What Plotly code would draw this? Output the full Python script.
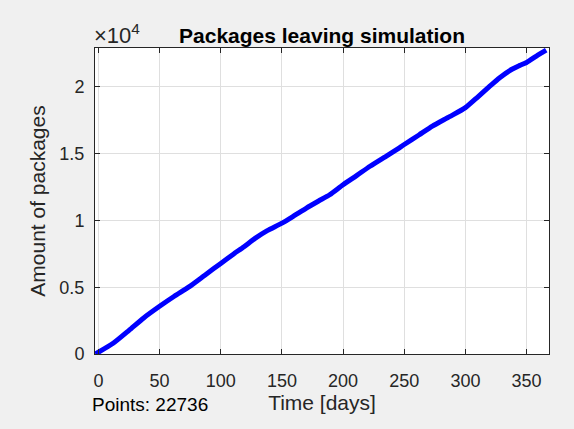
import plotly.graph_objects as go

# Cumulative number of packages that have left the simulation, by day
days = [-2.5, 12, 25, 37, 50, 62, 74, 87, 100, 110, 119, 128, 138, 150, 160,
        170, 180, 189, 200, 211, 222, 236, 246, 250, 262, 273, 287, 300, 310,
        319.5, 328, 338, 344, 350, 358, 366]
packages = [0, 800, 1770, 2700, 3570, 4320, 5020, 5900, 6780, 7450, 8030,
            8650, 9230, 9790, 10350, 10920, 11450, 11920, 12670, 13350, 14050,
            14850, 15430, 15680, 16390, 17050, 17760, 18440, 19230, 20010,
            20680, 21310, 21580, 21820, 22300, 22736]
n_points = 22736

x_ticks = [0, 50, 100, 150, 200, 250, 300, 350]
y_ticks = [0, 5000, 10000, 15000, 20000]
y_tick_text = ["0", "0.5", "1", "1.5", "2"]

FONT = "Liberation Sans, Arial, Helvetica, sans-serif"
INK = "#262626"
GRID = "#dfdfdf"

fig = go.Figure(
    go.Scatter(
        x=days, y=packages, mode="lines",
        line=dict(color="#0000ff", width=5, shape="spline", smoothing=0.6),
        hoverinfo="skip", showlegend=False,
    )
)

axis_common = dict(
    showline=True, linecolor=INK, linewidth=1, mirror="ticks",
    ticks="inside", ticklen=5, tickcolor=INK, tickwidth=1,
    showgrid=True, gridcolor=GRID, gridwidth=1, zeroline=False,
    tickfont=dict(family=FONT, size=18, color=INK),
)

fig.update_xaxes(
    range=[-2.8, 368.3], tickvals=x_ticks,
    ticktext=[str(v) for v in x_ticks],
    ticklabelstandoff=10,
    title=dict(text="Time [days]", font=dict(family=FONT, size=21, color=INK),
               standoff=3),
    **axis_common,
)
fig.update_yaxes(
    range=[0, 22900], tickvals=y_ticks, ticktext=y_tick_text,
    ticklabelstandoff=6,
    title=dict(text="Amount of packages",
               font=dict(family=FONT, size=21, color=INK), standoff=8),
    **axis_common,
)

fig.update_layout(
    width=574, height=429,
    margin=dict(l=94.5, r=24.7, t=48.3, b=75.2),
    paper_bgcolor="#f0f0f0", plot_bgcolor="#ffffff",
    title=dict(
        text="<b>Packages leaving simulation</b>",
        font=dict(family=FONT, size=21, color="#000000"),
        x=0.5, xref="paper", xanchor="center",
        y=1 - 36 / 429, yref="container", yanchor="middle",
    ),
    annotations=[
        dict(
            text="×10<sup>4</sup>", xref="paper", yref="paper",
            x=-0.006, y=0.993, xanchor="left", yanchor="bottom",
            showarrow=False, font=dict(family=FONT, size=22, color=INK),
        ),
        dict(
            text=f"Points: {n_points}", xref="paper", yref="paper",
            x=-0.01, y=-0.166, xanchor="left", yanchor="middle",
            showarrow=False, font=dict(family=FONT, size=19, color="#000000"),
        ),
    ],
)

fig.write_html("out.html")
